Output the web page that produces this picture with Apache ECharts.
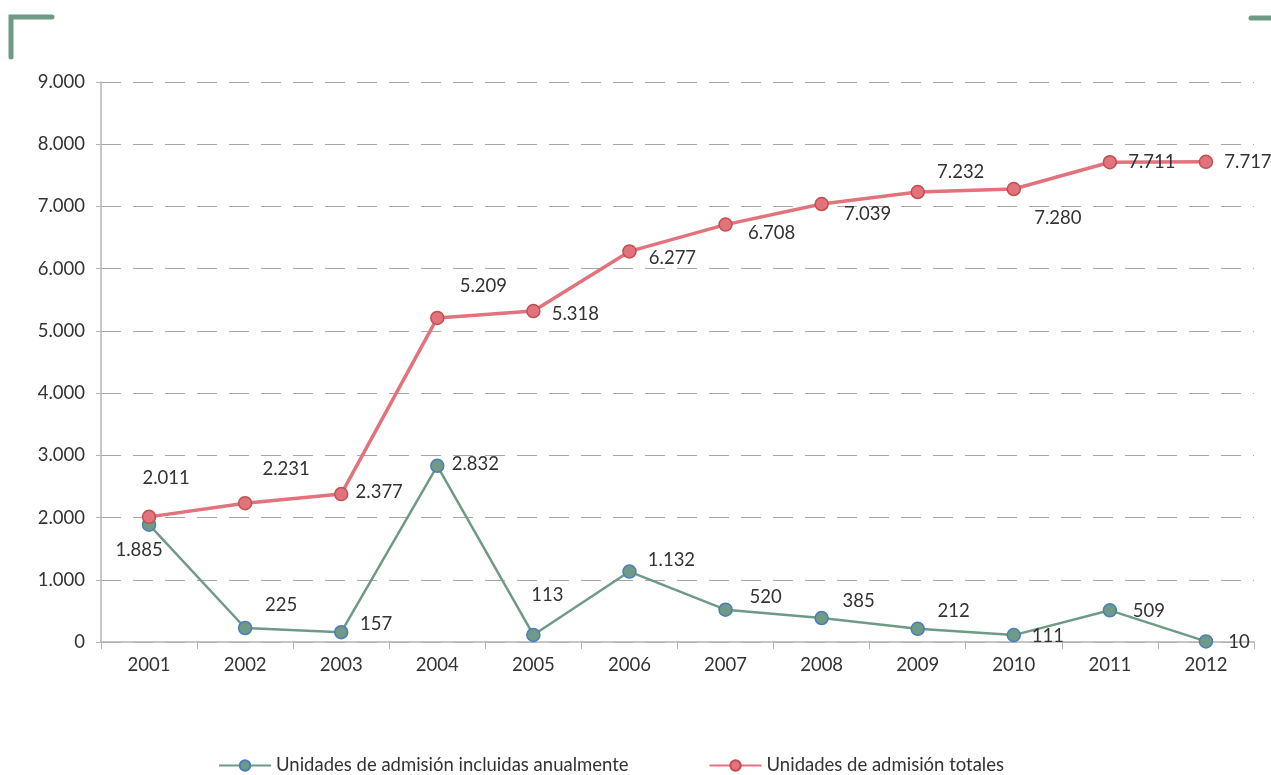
<!DOCTYPE html>
<html>
<head>
<meta charset="utf-8">
<script src="https://cdn.jsdelivr.net/npm/echarts@6/dist/echarts.min.js"></script>
<style>
html, body { margin: 0; padding: 0; background: #fff; }
#chart { width: 1271px; height: 775px; }
</style>
</head>
<body>
<div id="chart"></div>
<script>
// datos
var years = ['2001', '2002', '2003', '2004', '2005', '2006', '2007', '2008', '2009', '2010', '2011', '2012'];
var anuales = [1885, 225, 157, 2832, 113, 1132, 520, 385, 212, 111, 509, 10];
var totales = [2011, 2231, 2377, 5209, 5318, 6277, 6708, 7039, 7232, 7280, 7711, 7717];
var seriesNames = ['Unidades de admisión incluidas anualmente', 'Unidades de admisión totales'];

// desplazamiento de etiquetas (px)
var offAnuales = [[-10, 25], [36, -23], [35, -8], [38, -2], [14, -40], [42, -12], [40, -13], [37, -17], [36, -18], [34, 1], [39, 1], [33, 1]];
var offTotales = [[17, -39], [41, -34], [38, -2], [46, -32], [42, 3], [43, 7], [46, 8], [46, 10], [43, -20], [44, 29], [42, 0], [42, 0]];

function fmt(v) {
	return String(v).replace(/\B(?=(\d{3})+(?!\d))/g, '.');
}

function buildData(vals, offs) {
	var out = [];
	for (var i = 0; i < vals.length; i++) {
		out.push({
			value : vals[i],
			label : { offset : offs[i] }
		});
	}
	return out;
}

var font = 'Lato, "Open Sans", sans-serif';
var green = '#6f9a86';
var red = '#e2727c';

var labelStyle = {
	show : true,
	position : 'inside',
	color : '#333',
	fontSize : 18.5,
	fontFamily : font,
	formatter : function(p) { return fmt(p.value); }
};

var myChart = echarts.init(document.getElementById('chart'));
myChart.setOption({
	animation : false,
	textStyle : { fontFamily : font },
	grid : { left : 101, right : 17, top : 82, bottom : 133 },
	legend : {
		bottom : -5,
		left : 213,
		itemWidth : 52,
		itemHeight : 13,
		itemGap : 80,
		textStyle : { fontSize : 18.5, color : '#333', fontFamily : font },
		data : seriesNames
	},
	xAxis : {
		type : 'category',
		data : years,
		axisLine : { lineStyle : { color : '#b4b4b4', width : 1.5 } },
		axisTick : { show : true, length : 7, lineStyle : { color : '#b4b4b4' } },
		axisLabel : { color : '#333', fontSize : 18.5, margin : 14 }
	},
	yAxis : {
		type : 'value',
		min : 0,
		max : 9000,
		interval : 1000,
		axisLine : { show : true, lineStyle : { color : '#b4b4b4', width : 1.5 } },
		axisTick : { show : true, length : 5, lineStyle : { color : '#b4b4b4' } },
		axisLabel : { color : '#333', fontSize : 18.5, margin : 16, formatter : fmt },
		splitLine : { lineStyle : { color : '#a6a6a6', type : [20, 12], width : 1 } }
	},
	series : [{
		name : seriesNames[0],
		type : 'line',
		data : buildData(anuales, offAnuales),
		symbol : 'circle',
		symbolSize : 13,
		lineStyle : { color : green, width : 2.5 },
		itemStyle : { color : green, borderColor : '#4a7ebb', borderWidth : 1.5 },
		label : labelStyle,
		z : 2
	}, {
		name : seriesNames[1],
		type : 'line',
		data : buildData(totales, offTotales),
		symbol : 'circle',
		symbolSize : 13,
		lineStyle : { color : red, width : 3.5 },
		itemStyle : { color : red, borderColor : '#c0504d', borderWidth : 1.5 },
		label : labelStyle,
		z : 3
	}],
	graphic : [{
		type : 'polyline',
		shape : { points : [[11, 57], [11, 17], [52, 17]] },
		style : { stroke : '#6f9a86', lineWidth : 5, fill : null, lineCap : 'round', lineJoin : 'miter' }
	}, {
		type : 'line',
		shape : { x1 : 1251, y1 : 18, x2 : 1275, y2 : 18 },
		style : { stroke : '#6f9a86', lineWidth : 5, lineCap : 'round' }
	}]
});
</script>
</body>
</html>
